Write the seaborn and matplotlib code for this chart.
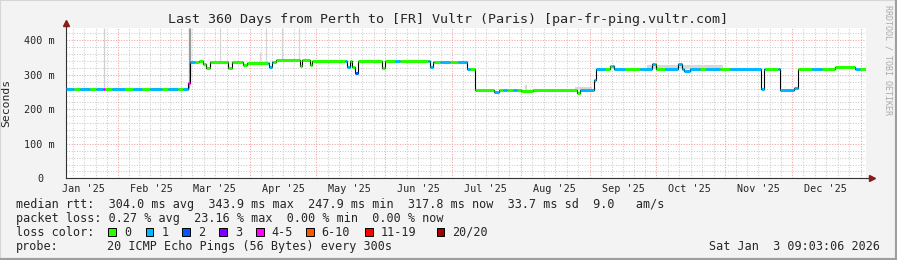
import numpy as np
import pandas as pd
import matplotlib
matplotlib.use('Agg')
import matplotlib.pyplot as plt
import matplotlib.transforms as mtransforms
from matplotlib.patches import Rectangle
from matplotlib.lines import Line2D
import seaborn as sns

# graph window: last 360 days up to Sat Jan 3 09:03:06 2026
end_time = pd.Timestamp('2026-01-03 09:03:06')
start_time = end_time - pd.Timedelta(days=360)

# median rtt, piecewise levels (day in window, ms)
level_day = [0.0, 55.1, 55.8, 59.9, 61.7, 63.0, 64.8, 72.9, 74.7, 79.7, 81.5,
             91.4, 92.7, 94.5, 105.1, 106.2, 109.6, 110.7, 126.5, 127.6, 128.7,
             130.1, 131.6, 142.2, 143.6, 164.0, 165.2, 180.3, 184.1, 192.6, 194.9,
             204.8, 210.2, 230.0, 231.3, 237.6, 238.5, 244.8, 246.6, 263.7, 265.5,
             275.4, 277.2, 278.1, 280.8, 312.8, 314.2, 321.3, 327.6, 329.5, 346.1,
             355.1]
level_ms = [260, 277, 336, 341, 330, 319, 336, 319, 336, 329, 335,
            323, 336, 343, 325, 343, 329, 341, 324, 340, 322,
            306, 340, 319, 339, 324, 338, 317, 257, 251, 257,
            253, 257, 248, 257, 285, 318, 325, 318, 330, 318,
            331, 318, 311, 318, 259, 318, 256, 263, 318, 323,
            318]

# packet loss bucket along the median line (run start day, bucket index)
run_day = [0.0, 3.6, 6.3, 10.8, 13.5, 16.7, 17.6, 20.7, 26.6, 30.2, 34.2,
           37.8, 43.2, 45.9, 50.4, 52.7, 55.1, 55.8, 58.1, 90.9, 93.2,
           125.6, 127.8, 130.1, 131.6, 148.1, 150.3, 162.9, 165.6, 168.3, 172.8,
           176.4, 182.0, 192.6, 194.9, 196.7, 198.5, 201.2, 203.0, 231.3, 242.6,
           245.7, 251.6, 258.3, 265.1, 269.6, 285.3, 288.0, 294.3, 298.8, 314.6,
           320.4, 329.4, 335.7, 340.2, 355.1, 357.3]
run_loss = [1, 0, 1, 0, 1, 4, 0, 1, 0, 1, 0,
            1, 0, 1, 0, 1, 4, 1, 0, 1, 0,
            1, 0, 2, 0, 1, 0, 1, 0, 1, 0,
            1, 0, 1, 0, 1, 0, 1, 0, 1, 0,
            1, 0, 1, 0, 1, 0, 1, 0, 1, 0,
            1, 0, 1, 0, 1, 0]

loss_labels = ['0', '1', '2', '3', '4-5', '6-10', '11-19', '20/20']
loss_colors = ['#26ff00', '#00b8ff', '#0059ff', '#7e00ff', '#ff00ff',
               '#ff5500', '#ff0000', '#a10000']

# smoke: single spikes and light bands
spike_day = [17.1, 55.2, 55.6, 69.3, 87.3, 90.0, 97.2, 104.9]
spike_lo = [264, 262, 300, 336, 336, 336, 343, 343]
spike_hi = [436, 436, 436, 436, 366, 436, 436, 436]
spike_shade = ['#cfcfcf', '#9a9a9a', '#9a9a9a', '#d6d6d6', '#d6d6d6', '#d6d6d6', '#d6d6d6', '#d6d6d6']
band_day0 = [206.6, 229.0, 261.5, 286.5]
band_day1 = [207.3, 236.7, 295.6, 292.0]
band_lo = [257, 257, 318, 318]
band_hi = [270, 266, 327, 324]

stats_rtt = "median rtt:  304.0 ms avg  343.9 ms max  247.9 ms min  317.8 ms now  33.7 ms sd  9.0   am/s"
stats_loss = "packet loss: 0.27 % avg  23.16 % max  0.00 % min  0.00 % now"
probe_text = "20 ICMP Echo Pings (56 Bytes) every 300s"
stamp_text = "Sat Jan  3 09:03:06 2026"
title = "Last 360 Days from Perth to [FR] Vultr (Paris) [par-fr-ping.vultr.com]"

sns.set_style('white')
plt.rcParams['font.family'] = ['DejaVu Sans Mono']

W, H = 897, 260
fig = plt.figure(figsize=(W / 100, H / 100), dpi=100, facecolor='#f3f3f3')
L, R, T, B = 66, 866, 28, 178.3
ax = fig.add_axes([L / W, 1 - B / H, (R - L) / W, (B - T) / H])
ax.set_facecolor('white')
ax.set_xlim(0, 360)
ax.set_ylim(0, 435.7)

def day_of(ts):
    return (ts - start_time) / pd.Timedelta(days=1)

month_start = pd.date_range('2025-02-01', '2026-01-01', freq='MS')
month_all = pd.date_range('2025-01-01', '2026-01-01', freq='MS')
minor = []
for a, b in zip(month_all[:-1], month_all[1:]):
    da, db = day_of(a), day_of(b)
    for k in range(1, 6):
        minor.append(da + (db - da) * k / 6)
minor = [m for m in minor if 0 < m < 360]
label_pos = [day_of(m + pd.Timedelta(days=15)) for m in month_all[:-1]]
label_txt = [m.strftime("%b '%y") for m in month_all[:-1]]

# grid
grid_kw = dict(lw=0.75, linestyles=(0, (1, 1.5)), zorder=1)
ax.vlines(minor, 0, 435.7, colors='#cccccc', **grid_kw)
ax.hlines([v for v in range(20, 436, 20) if v % 100], 0, 360, colors='#cccccc', **grid_kw)
ax.vlines([day_of(m) for m in month_start], 0, 435.7, colors='#f2a0a0', **grid_kw)
ax.hlines([100, 200, 300, 400], 0, 360, colors='#f2a0a0', **grid_kw)

# smoke
ax.vlines(spike_day, spike_lo, spike_hi, colors=spike_shade, lw=0.9, zorder=2)
for d0, d1, lo, hi in zip(band_day0, band_day1, band_lo, band_hi):
    ax.fill_between([d0, d1], [lo, lo], [hi, hi], color='#d8d8d8', lw=0, zorder=2)

# median line: thin black steps, coloured by loss
sns.lineplot(x=level_day + [360], y=level_ms + [level_ms[-1]], drawstyle='steps-post',
             color='black', lw=0.8, ax=ax, zorder=3)
seg_end = level_day[1:] + [360]
run_end = run_day[1:] + [360]
x0s, x1s, ys, cs = [], [], [], []
for s, e, v in zip(level_day, seg_end, level_ms):
    for rs, re_, lb in zip(run_day, run_end, run_loss):
        a, b = max(s, rs), min(e, re_)
        if b > a:
            x0s.append(a); x1s.append(b); ys.append(v); cs.append(loss_colors[lb])
ax.hlines(ys, x0s, x1s, colors=cs, lw=2.2, zorder=4)

# axes
for side in ['top', 'right']:
    ax.spines[side].set_visible(False)
for side in ['left', 'bottom']:
    ax.spines[side].set_color('#333333')
    ax.spines[side].set_linewidth(0.8)
ax.plot([0, 0], [1, 1.04], transform=ax.transAxes, color='#333333', lw=0.8, clip_on=False)
ax.plot([1, 1.005], [0, 0], transform=ax.transAxes, color='#333333', lw=0.8, clip_on=False)
ax.plot([0], [1.035], marker='^', ms=4.5, color='#8b1a1a', transform=ax.transAxes, clip_on=False)
ax.plot([1.007], [0], marker='>', ms=4.5, color='#8b1a1a', transform=ax.transAxes, clip_on=False)

ax.set_xticks(label_pos, label_txt)
ax.set_yticks([0, 100, 200, 300, 400], ['0', '100 m', '200 m', '300 m', '400 m'])
ax.tick_params(axis='x', length=0, pad=4, labelsize=7.3)
ax.tick_params(axis='y', length=2, pad=6, labelsize=7.3, color='#f2a0a0')
ylab = ax.get_yticklabels()[0]
ylab.set_transform(ylab.get_transform() + mtransforms.ScaledTranslation(-0.11, 0, fig.dpi_scale_trans))
ax.set_ylabel('Seconds', fontsize=8.2, labelpad=6)
ax.yaxis.set_label_coords((11 - L) / (R - L), 0.5)

# text blocks
fig.text(448 / W, 1 - 19 / H, title, ha='center', va='center', fontsize=9.6)
fig.text(888 / W, 1 - 60 / H, 'RRDTOOL / TOBI OETIKER', rotation=270, ha='center', va='center',
         fontsize=6, color='#aaaaaa')
fs = 8.5
fig.text(16 / W, 1 - 207.7 / H, stats_rtt, fontsize=fs, va='baseline')
fig.text(16 / W, 1 - 221.7 / H, stats_loss, fontsize=fs, va='baseline')
fig.text(16 / W, 1 - 235.7 / H, 'loss color:', fontsize=fs, va='baseline')
fig.text(16 / W, 1 - 249.7 / H, 'probe:', fontsize=fs, va='baseline')
fig.text(107 / W, 1 - 249.7 / H, probe_text, fontsize=fs, va='baseline')
fig.text(880 / W, 1 - 249.7 / H, stamp_text, fontsize=fs, va='baseline', ha='right')

sw_x = [108.3, 145.7, 182.3, 219.3, 256, 306, 365.3, 436.7]
for sx, col, lab in zip(sw_x, loss_colors, loss_labels):
    fig.add_artist(Rectangle((sx / W, 1 - 236 / H), 7.7 / W, 7.7 / H, facecolor=col,
                             edgecolor='black', lw=0.7, transform=fig.transFigure))
    fig.text((sx + 15.7) / W, 1 - 235.7 / H, lab, fontsize=fs, va='baseline')

# 3d frame
fig.add_artist(Line2D([0, 0, 1], [0, 1, 1], transform=fig.transFigure, color='#d6d6d6', lw=1.5))
fig.add_artist(Line2D([0, 1, 1], [0, 0, 1], transform=fig.transFigure, color='#9e9e9e', lw=3))

fig.savefig('out.png', dpi=100, facecolor=fig.get_facecolor())
